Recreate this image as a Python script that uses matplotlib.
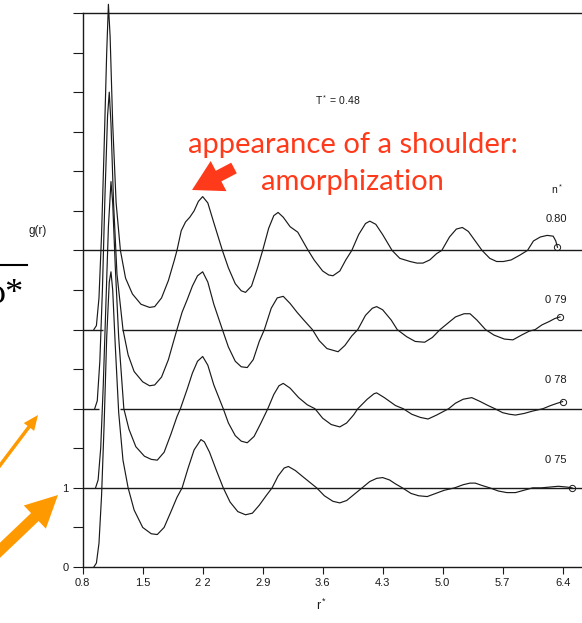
import matplotlib.pyplot as plt
from matplotlib import transforms
from matplotlib.patches import FancyArrow

# g(r), T* = 0.48
r_080 = [0.93, 0.96, 0.99, 1.02, 1.05, 1.08, 1.10, 1.12, 1.15, 1.19, 1.24, 1.30, 1.38, 1.48, 1.58, 1.64,
         1.72, 1.80, 1.87, 1.90, 1.95, 2.00, 2.05, 2.10, 2.15, 2.20, 2.26, 2.33, 2.43, 2.50, 2.58, 2.65,
         2.70, 2.77, 2.84, 2.90, 2.97, 3.03, 3.08, 3.14, 3.22, 3.31, 3.42, 3.50, 3.60, 3.67, 3.72, 3.80,
         3.87, 3.94, 4.02, 4.10, 4.15, 4.22, 4.30, 4.41, 4.50, 4.62, 4.70, 4.77, 4.85, 4.93, 4.99, 5.08,
         5.16, 5.23, 5.30, 5.38, 5.46, 5.55, 5.63, 5.71, 5.80, 5.90, 5.99, 6.06, 6.14, 6.22, 6.29, 6.32,
         6.34]
g_080 = [0.00, 0.05, 0.40, 1.20, 2.30, 3.50, 4.11, 3.70, 2.60, 1.60, 1.00, 0.65, 0.45, 0.32, 0.28, 0.29,
         0.40, 0.62, 0.88, 1.00, 1.25, 1.36, 1.42, 1.50, 1.62, 1.68, 1.60, 1.35, 1.00, 0.78, 0.58, 0.49,
         0.47, 0.55, 0.78, 1.00, 1.28, 1.44, 1.48, 1.42, 1.30, 1.23, 1.02, 0.88, 0.74, 0.69, 0.68, 0.74,
         0.88, 1.00, 1.20, 1.34, 1.37, 1.33, 1.20, 1.00, 0.90, 0.86, 0.84, 0.84, 0.88, 0.96, 1.00, 1.17,
         1.27, 1.29, 1.24, 1.12, 1.00, 0.90, 0.86, 0.86, 0.88, 0.94, 1.00, 1.12, 1.17, 1.19, 1.18, 1.12,
         1.04]

r_079 = [0.94, 0.97, 1.00, 1.03, 1.06, 1.09, 1.11, 1.13, 1.16, 1.20, 1.27, 1.33, 1.40, 1.50, 1.58, 1.64,
         1.72, 1.80, 1.86, 1.90, 1.96, 2.02, 2.08, 2.14, 2.20, 2.26, 2.33, 2.43, 2.50, 2.58, 2.65, 2.72,
         2.79, 2.86, 2.92, 3.00, 3.07, 3.14, 3.22, 3.30, 3.38, 3.48, 3.56, 3.65, 3.78, 3.86, 3.94, 4.01,
         4.10, 4.18, 4.23, 4.30, 4.40, 4.47, 4.58, 4.68, 4.79, 4.88, 4.97, 5.06, 5.15, 5.25, 5.32, 5.40,
         5.50, 5.60, 5.72, 5.82, 5.92, 6.01, 6.08, 6.16, 6.24, 6.31, 6.37]
g_079 = [0.00, 0.10, 0.60, 1.50, 2.70, 3.70, 4.00, 3.60, 2.60, 1.70, 1.00, 0.68, 0.47, 0.34, 0.29, 0.30,
         0.40, 0.62, 0.85, 1.00, 1.22, 1.38, 1.55, 1.68, 1.73, 1.60, 1.32, 1.00, 0.78, 0.60, 0.53, 0.52,
         0.62, 0.85, 1.00, 1.27, 1.40, 1.42, 1.33, 1.22, 1.12, 1.00, 0.86, 0.76, 0.72, 0.80, 0.92, 1.00,
         1.18, 1.27, 1.29, 1.25, 1.12, 1.00, 0.91, 0.85, 0.84, 0.90, 1.00, 1.08, 1.16, 1.20, 1.20, 1.12,
         1.00, 0.93, 0.88, 0.87, 0.93, 0.98, 1.00, 1.06, 1.10, 1.14, 1.16]

r_078 = [0.95, 0.98, 1.01, 1.04, 1.07, 1.10, 1.13, 1.15, 1.18, 1.22, 1.28, 1.34, 1.42, 1.52, 1.60, 1.67,
         1.75, 1.83, 1.90, 1.94, 2.02, 2.08, 2.14, 2.20, 2.26, 2.33, 2.44, 2.50, 2.58, 2.65, 2.72, 2.80,
         2.88, 2.96, 3.03, 3.09, 3.14, 3.22, 3.32, 3.42, 3.51, 3.60, 3.70, 3.80, 3.88, 3.96, 4.01, 4.12,
         4.20, 4.23, 4.32, 4.45, 4.54, 4.64, 4.74, 4.83, 4.93, 5.00, 5.07, 5.15, 5.24, 5.34, 5.44, 5.53,
         5.61, 5.70, 5.78, 5.85, 5.95, 6.05, 6.17, 6.26, 6.34, 6.40]
g_078 = [0.00, 0.10, 0.50, 1.30, 2.30, 3.30, 3.87, 3.60, 2.80, 1.90, 1.00, 0.74, 0.52, 0.40, 0.36, 0.35,
         0.45, 0.68, 0.90, 1.00, 1.25, 1.45, 1.60, 1.66, 1.55, 1.30, 1.00, 0.82, 0.66, 0.59, 0.57, 0.65,
         0.82, 1.00, 1.18, 1.29, 1.32, 1.26, 1.14, 1.05, 1.00, 0.88, 0.80, 0.77, 0.82, 0.92, 1.00, 1.12,
         1.19, 1.20, 1.14, 1.04, 1.00, 0.93, 0.89, 0.87, 0.92, 0.96, 1.00, 1.07, 1.12, 1.14, 1.09, 1.04,
         1.00, 0.95, 0.93, 0.92, 0.94, 0.97, 1.00, 1.04, 1.07, 1.09]

r_075 = [0.93, 0.96, 0.99, 1.02, 1.05, 1.08, 1.11, 1.13, 1.15, 1.18, 1.22, 1.27, 1.33, 1.40, 1.50, 1.60,
         1.67, 1.75, 1.83, 1.90, 1.96, 2.03, 2.10, 2.18, 2.22, 2.28, 2.36, 2.44, 2.52, 2.61, 2.70, 2.78,
         2.86, 2.94, 3.01, 3.08, 3.15, 3.20, 3.28, 3.37, 3.45, 3.53, 3.62, 3.72, 3.80, 3.88, 3.97, 4.06,
         4.15, 4.23, 4.30, 4.38, 4.45, 4.53, 4.63, 4.72, 4.82, 4.92, 5.02, 5.14, 5.24, 5.32, 5.38, 5.46,
         5.55, 5.65, 5.75, 5.85, 5.95, 6.05, 6.15, 6.25, 6.35, 6.45, 6.51]
g_075 = [0.00, 0.05, 0.30, 0.90, 1.80, 2.90, 3.60, 3.73, 3.50, 2.80, 1.95, 1.35, 1.00, 0.72, 0.50, 0.42,
         0.41, 0.50, 0.70, 0.88, 1.00, 1.25, 1.48, 1.61, 1.58, 1.45, 1.22, 1.00, 0.82, 0.70, 0.66, 0.68,
         0.78, 0.90, 1.00, 1.15, 1.25, 1.27, 1.22, 1.14, 1.07, 1.00, 0.90, 0.83, 0.81, 0.84, 0.92, 1.00,
         1.08, 1.12, 1.13, 1.10, 1.05, 1.00, 0.93, 0.90, 0.89, 0.93, 0.97, 1.00, 1.04, 1.06, 1.06, 1.03,
         1.00, 0.96, 0.94, 0.94, 0.97, 1.00, 1.00, 1.01, 1.02, 1.01, 1.00]

curves = [(r_080, g_080, 3), (r_079, g_079, 2), (r_078, g_078, 1), (r_075, g_075, 0)]
density_labels = ['0.80', '0 79', '0 78', '0 75']
x_ticks = [0.8, 1.5, 2.2, 2.9, 3.6, 4.3, 5.0, 5.7, 6.4]
x_ticklabels = ['0.8', '1.5', '2 2', '2.9', '3.6', '4.3', '5.0', '5.7', '6.4']

plt.rcParams['font.family'] = ['Liberation Sans', 'DejaVu Sans']
plt.rcParams['mathtext.fontset'] = 'custom'
plt.rcParams['mathtext.rm'] = 'Liberation Sans'
plt.rcParams['mathtext.it'] = 'Liberation Sans'

W, H = 582, 623
fig = plt.figure(figsize=(W / 100, H / 100), dpi=100)
# pixel coordinates, origin top-left
pix = transforms.Affine2D().scale(0.01, -0.01).translate(0, H / 100) + fig.dpi_scale_trans

x0, y0, y1 = 82.7, 567, 13
ax = fig.add_axes([x0 / W, 1 - y0 / H, (W - x0) / W, (y0 - y1) / H])
ax.set_xlim(0.8, 0.8 + (W - x0) / 85.7)
ax.set_ylim(0, 7)

ink = '#1a1a1a'
for r, g, off in curves:
    ax.plot(r, [v + off for v in g], color=ink, lw=0.85, clip_on=False, zorder=3)
    ax.plot(r[-1], g[-1] + off, marker='o', ms=4.5, mfc='none', mec=ink, mew=0.7, clip_on=False, zorder=4)

# baselines g = 1 for each curve
ax.axhline(1, color=ink, lw=1.0)
ax.axhline(4, color=ink, lw=1.0)
ax.hlines(2, 0.8, 0.99, color=ink, lw=1.0)
ax.hlines(2, 1.24, 7, color=ink, lw=1.0)
ax.hlines(3, 0.8, 1.04, color=ink, lw=1.0)
ax.hlines(3, 1.26, 7, color=ink, lw=1.0)

ax.spines['right'].set_visible(False)
for s in ['left', 'bottom', 'top']:
    ax.spines[s].set_color(ink)
    ax.spines[s].set_linewidth(1.0)

ax.set_xticks(x_ticks)
ax.set_xticklabels(x_ticklabels)
ax.set_yticks([i * 0.5 for i in range(15)])
ax.set_yticklabels(['0', '', '1'] + [''] * 12)
ax.tick_params(axis='x', direction='out', length=5, width=0.8, labelsize=8, pad=3, colors=ink)
ax.tick_params(axis='y', direction='out', length=7, width=0.8, labelsize=8, pad=3, colors=ink)

# labels
fig.text(38, 231, 'g(r)', transform=pix, fontsize=8.5, ha='center', va='center', color=ink)
fig.text(322, 605, 'r$^*$', transform=pix, fontsize=9, ha='center', va='center', color=ink)
fig.text(338, 100, 'T$^*$ = 0.48', transform=pix, fontsize=7.5, ha='center', va='center', color=ink)
fig.text(557, 189, 'n$^*$', transform=pix, fontsize=7.5, ha='center', va='center', color=ink)
for lab, py in zip(density_labels, [219, 300, 380, 460]):
    fig.text(556, py, lab, transform=pix, fontsize=8, ha='center', va='center', color=ink)

# red annotation
red = '#ff3a1a'
fig.text(353, 145, 'appearance of a shoulder:', transform=pix, fontsize=21, family='Lato',
         ha='center', va='center', color=red)
fig.text(352, 182, 'amorphization', transform=pix, fontsize=21, family='Lato',
         ha='center', va='center', color=red)
fig.patches.append(FancyArrow(234, 168, -42, 22, width=12, head_width=34, head_length=30,
                              length_includes_head=True, color=red, lw=0, transform=pix))

# leftovers from the slide on the left edge
orange = '#ff9900'
fig.patches.append(FancyArrow(-2, 468, 40, -53, width=3.5, head_width=13, head_length=15,
                              length_includes_head=True, color=orange, lw=0, transform=pix))
fig.patches.append(FancyArrow(-6, 556, 64, -61, width=11, head_width=32, head_length=32,
                              length_includes_head=True, color=orange, lw=0, transform=pix))
fig.lines.append(plt.Line2D([0, 27], [265, 265], color='black', lw=1.5, transform=pix))
fig.text(24, 303, 'ρ*', transform=pix, fontsize=26, family='Liberation Serif',
         ha='right', va='baseline', color='black')

fig.savefig('out.png', dpi=100)
